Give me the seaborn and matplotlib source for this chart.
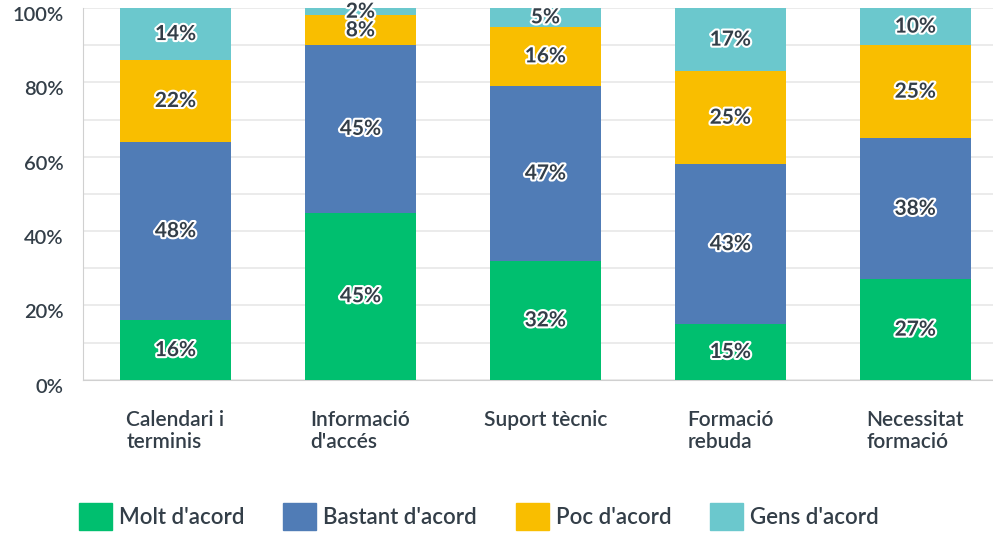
import matplotlib
matplotlib.use("Agg")
import matplotlib.pyplot as plt
import matplotlib.patheffects as pe
import matplotlib.transforms as mtransforms
from matplotlib.patches import Patch
import numpy as np
import pandas as pd
import seaborn as sns

categories = ["Calendari i\nterminis", "Informació\nd'accés", "Suport tècnic",
              "Formació\nrebuda", "Necessitat\nformació"]
series = ["Molt d'acord", "Bastant d'acord", "Poc d'acord", "Gens d'acord"]
molt = [16, 45, 32, 15, 27]
bastant = [48, 45, 47, 43, 38]
poc = [22, 8, 16, 25, 25]
gens = [14, 2, 5, 17, 10]
colors = ["#00BF6F", "#507CB6", "#F9BE00", "#6BC8CD"]
text_color = "#333E48"

sns.set_style("white")
plt.rcParams["font.family"] = ["Lato", "DejaVu Sans"]

fig = plt.figure(figsize=(9.93, 5.35), dpi=100)
ax = fig.add_axes([0.0836, 0.29, 0.9164, 0.695])

bottom = np.zeros(len(categories))
for name, vals, col in zip(series, [molt, bastant, poc, gens], colors):
    df = pd.DataFrame({"cat": categories, "val": vals})
    sns.barplot(data=df, x="cat", y="val", color=col, width=0.6,
                bottom=bottom, ax=ax, saturation=1, linewidth=0, zorder=3)
    cont = ax.containers[-1]
    ax.bar_label(cont, labels=[f"{v}%" for v in vals], label_type="center",
                 color=text_color, fontsize=15, fontweight="bold",
                 path_effects=[pe.withStroke(linewidth=3, foreground="white")],
                 zorder=5)
    bottom = bottom + np.array(vals)

ax.set_ylim(0, 100)
ax.set_xlim(-0.5, 4.42)
ax.set_yticks(range(0, 101, 20))
ax.set_yticks(range(0, 101, 10), minor=True)
ax.set_yticklabels([f"{v}%" for v in range(0, 101, 20)])
ax.yaxis.grid(True, which="both", color="#E8E8E8", linewidth=1.2, zorder=0)
ax.set_axisbelow(True)
ax.set_xlabel("")
ax.set_ylabel("")

for s in ["top", "right"]:
    ax.spines[s].set_visible(False)
ax.spines["left"].set_color("#D0D0D0")
ax.spines["bottom"].set_color("#D0D0D0")

ax.tick_params(axis="y", length=0, pad=14, labelsize=14.5, labelcolor=text_color)
ax.tick_params(axis="x", length=0, pad=22, labelsize=15, labelcolor=text_color)
offset = mtransforms.ScaledTranslation(0, -6 / 100, fig.dpi_scale_trans)
for lab in ax.get_yticklabels():
    lab.set_transform(lab.get_transform() + offset)
    lab.set_fontweight("semibold")
for lab in ax.get_xticklabels():
    lab.set_multialignment("left")
    lab.set_fontweight("semibold")
    lab.set_verticalalignment("top")
    lab.set_linespacing(1.1)

handles = [Patch(facecolor=c, edgecolor=c) for c in colors]
fig.legend(handles, series, loc="lower left", bbox_to_anchor=(0.059, -0.028),
           ncol=4, frameon=False, handlelength=1.5,
           handleheight=1.5, handletextpad=0.3, columnspacing=1.75,
           labelcolor=text_color, prop={"weight": "semibold", "size": 16})

fig.savefig("out.png", dpi=100)
